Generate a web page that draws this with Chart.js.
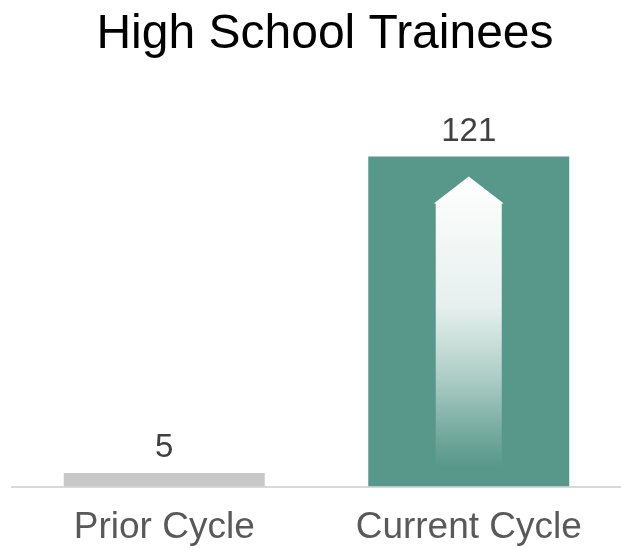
<!DOCTYPE html>
<html>
<head>
<meta charset="utf-8">
<script src="https://cdn.jsdelivr.net/npm/chart.js@4"></script>
<style>
  html, body { margin: 0; padding: 0; background: #ffffff; }
  #wrap { width: 621px; height: 548px; }
</style>
</head>
<body>
<div id="wrap"><canvas id="c" width="621" height="548"></canvas></div>
<script>
const categories = ["Prior Cycle", "Current Cycle"];
const trainees = [5, 121];
const barColors = ["#C8C8C8", "#58988A"];
const chartTitle = "High School Trainees";

const centeredTitle = {
  id: 'centeredTitle',
  afterDraw(chart) {
    const ctx = chart.ctx;
    ctx.save();
    ctx.font = '48px "Liberation Sans", Arial, sans-serif';
    ctx.fillStyle = '#000000';
    ctx.textAlign = 'center';
    ctx.textBaseline = 'alphabetic';
    ctx.fillText(chartTitle, 325, 48);
    ctx.restore();
  }
};

const valueLabels = {
  id: 'valueLabels',
  afterDatasetsDraw(chart) {
    const ctx = chart.ctx;
    const meta = chart.getDatasetMeta(0);
    ctx.save();
    ctx.font = '33px "Liberation Sans", Arial, sans-serif';
    ctx.fillStyle = '#404040';
    ctx.textAlign = 'center';
    ctx.textBaseline = 'alphabetic';
    meta.data.forEach((bar, i) => {
      ctx.fillText(String(chart.data.datasets[0].data[i]), bar.x, bar.y - 16);
    });
    ctx.restore();
  }
};

const growthArrow = {
  id: 'growthArrow',
  afterDatasetsDraw(chart) {
    const ctx = chart.ctx;
    const meta = chart.getDatasetMeta(0);
    const bar = meta.data[1];
    const base = bar.base;
    const top = bar.y;
    const cx = bar.x;
    const shaftHalf = 33;
    const headHalf = 35;
    const apexY = top + 20;
    const headBaseY = top + 47;
    const bottomY = base - 20;
    ctx.save();
    const g = ctx.createLinearGradient(0, apexY, 0, bottomY);
    g.addColorStop(0, 'rgba(255,255,255,1)');
    g.addColorStop(0.45, 'rgba(255,255,255,0.85)');
    g.addColorStop(0.7, 'rgba(255,255,255,0.5)');
    g.addColorStop(0.9, 'rgba(255,255,255,0.15)');
    g.addColorStop(1, 'rgba(255,255,255,0)');
    ctx.fillStyle = g;
    ctx.beginPath();
    ctx.moveTo(cx, apexY);
    ctx.lineTo(cx + headHalf, headBaseY);
    ctx.lineTo(cx + shaftHalf, headBaseY);
    ctx.lineTo(cx + shaftHalf, bottomY);
    ctx.lineTo(cx - shaftHalf, bottomY);
    ctx.lineTo(cx - shaftHalf, headBaseY);
    ctx.lineTo(cx - headHalf, headBaseY);
    ctx.closePath();
    ctx.fill();
    ctx.restore();
  }
};

new Chart(document.getElementById('c'), {
  type: 'bar',
  data: {
    labels: categories,
    datasets: [{
      data: trainees,
      backgroundColor: barColors,
      borderWidth: 0,
      barPercentage: 0.66,
      categoryPercentage: 1.0
    }]
  },
  options: {
    responsive: false,
    animation: false,
    layout: { padding: { left: 12, right: 0, top: 72, bottom: -21 } },
    plugins: {
      legend: { display: false },
      tooltip: { enabled: false },
      title: { display: false }
    },
    scales: {
      x: {
        grid: { display: false, drawTicks: false },
        border: { display: true, color: '#D9D9D9', width: 2 },
        ticks: {
          color: '#595959',
          padding: 19,
          font: { family: '"Liberation Sans", Arial, sans-serif', size: 37 }
        }
      },
      y: {
        display: false,
        min: 0,
        max: 152
      }
    }
  },
  plugins: [valueLabels, growthArrow, centeredTitle]
});
</script>
</body>
</html>
